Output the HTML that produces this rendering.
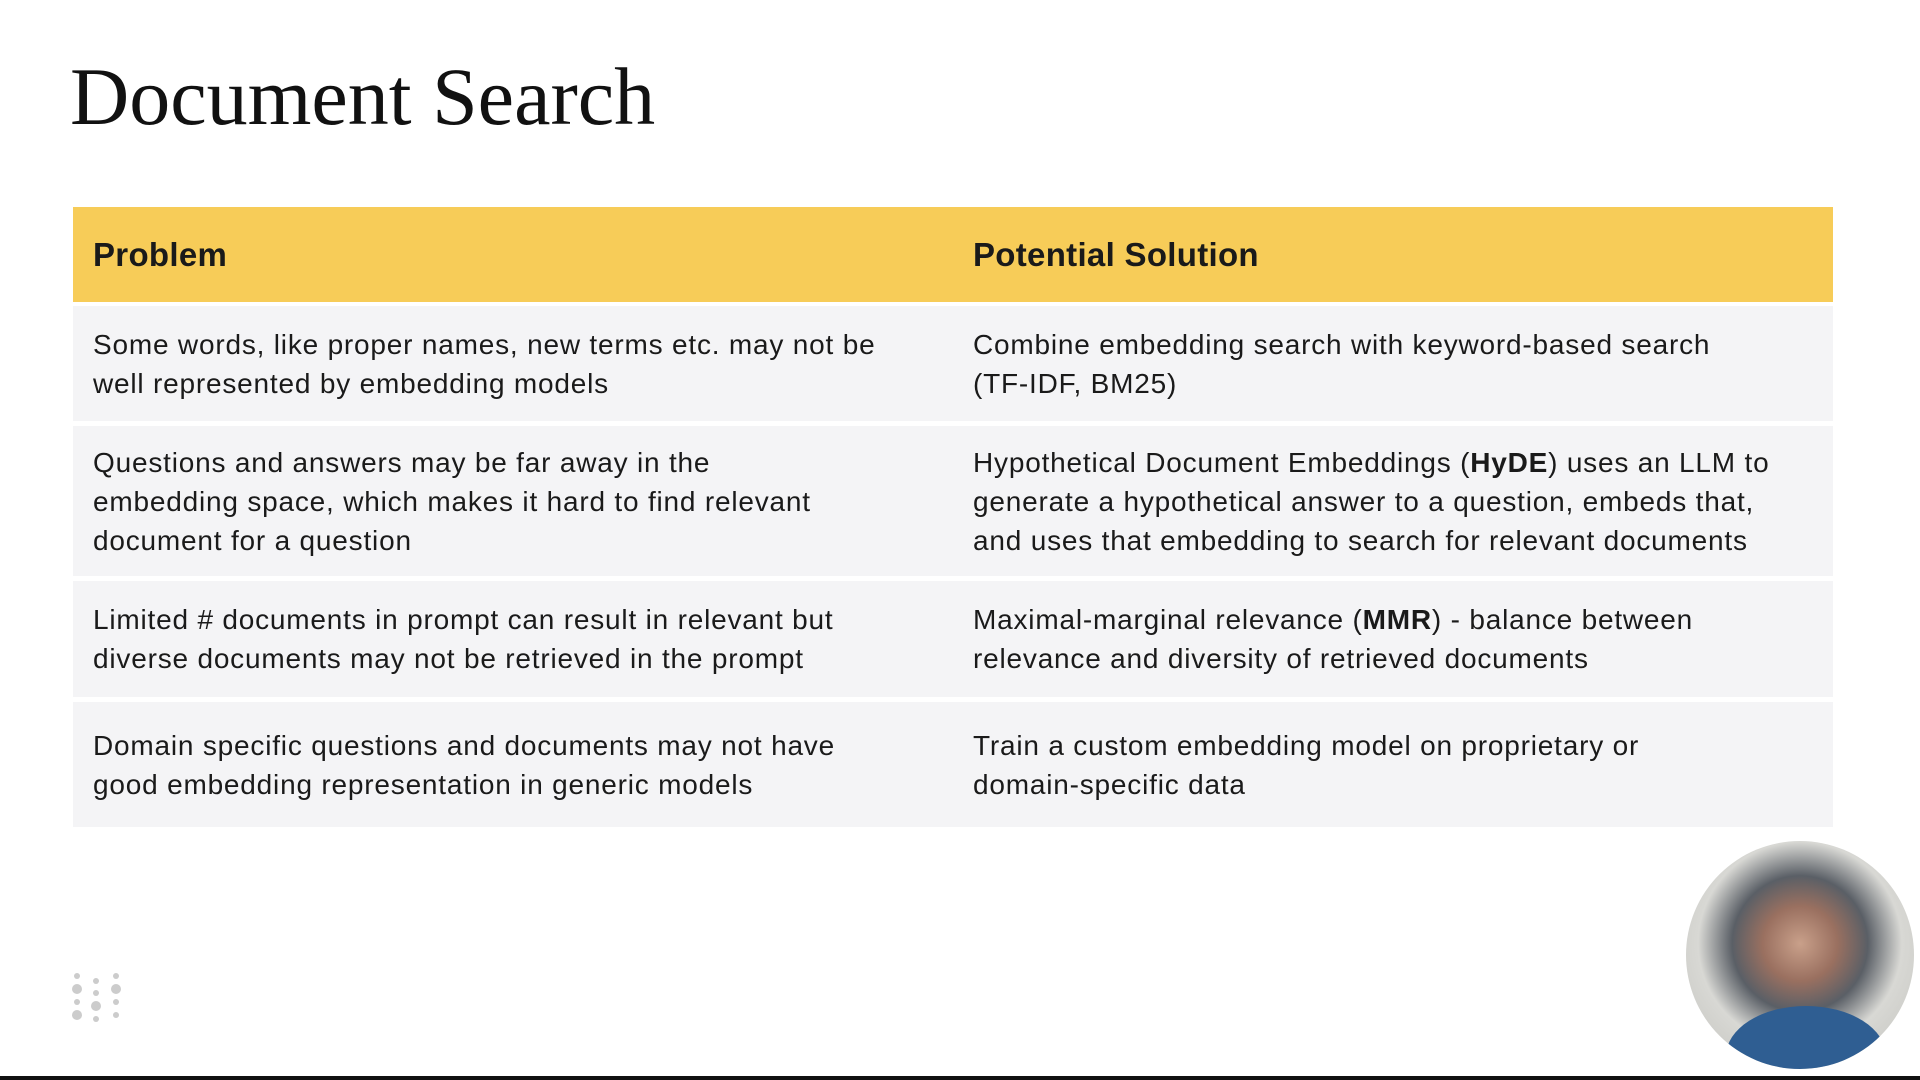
<!DOCTYPE html>
<html><head><meta charset="utf-8"><style>
body{margin:0;width:1920px;height:1080px;background:#fff;position:relative;overflow:hidden;font-family:"Liberation Sans",sans-serif;color:#1a1a1a}
h1{position:absolute;left:70px;top:50px;margin:0;font-family:"Liberation Serif",serif;font-weight:normal;font-size:82px;color:#111}
.tbl{position:absolute;left:73px;top:207px;width:1760px}
.row{display:flex;align-items:center;background:#f4f4f6;margin-bottom:5px;font-size:28px;letter-spacing:0.8px;line-height:39px;white-space:nowrap}
.row div{box-sizing:border-box}
.c1{width:900px;padding-left:20px;padding-right:20px}
.c2{width:860px;padding-left:0}
.hd{background:#f7cc58;font-weight:bold;font-size:33px;letter-spacing:0.3px;height:95px;margin-bottom:4px}
.dots{position:absolute;left:70px;top:970px}
.cam{position:absolute;left:1686px;top:841px;width:228px;height:228px;border-radius:50%;background:radial-gradient(circle at 50% 45%,#c9a08a 0,#9a7060 22%,#5a5f66 40%,#d8d8d4 60%,#bfbfba 100%);overflow:hidden}
.shirt{position:absolute;left:40px;top:165px;width:160px;height:100px;border-radius:50%;background:#2f5e92}
.bar{position:absolute;left:0;top:1076px;width:1920px;height:4px;background:#111}
</style></head><body>
<h1>Document Search</h1>
<div class="tbl">
<div class="row hd"><div class="c1">Problem</div><div class="c2">Potential Solution</div></div>
<div class="row" style="height:115px"><div class="c1">Some words, like proper names, new terms etc. may not be<br>well represented by embedding models</div><div class="c2">Combine embedding search with keyword-based search<br>(TF-IDF, BM25)</div></div>
<div class="row" style="height:150px"><div class="c1">Questions and answers may be far away in the<br>embedding space, which makes it hard to find relevant<br>document for a question</div><div class="c2">Hypothetical Document Embeddings (<b>HyDE</b>) uses an LLM to<br>generate a hypothetical answer to a question, embeds that,<br>and uses that embedding to search for relevant documents</div></div>
<div class="row" style="height:116px"><div class="c1">Limited # documents in prompt can result in relevant but<br>diverse documents may not be retrieved in the prompt</div><div class="c2">Maximal-marginal relevance (<b>MMR</b>) - balance between<br>relevance and diversity of retrieved documents</div></div>
<div class="row" style="height:125px"><div class="c1">Domain specific questions and documents may not have<br>good embedding representation in generic models</div><div class="c2">Train a custom embedding model on proprietary or<br>domain-specific data</div></div>
</div>
<svg class="dots" width="60" height="60" fill="#ccc">
<circle cx="7" cy="6" r="3"/><circle cx="7" cy="19" r="5"/><circle cx="7" cy="32" r="3"/><circle cx="7" cy="45" r="5"/>
<circle cx="26" cy="11" r="3"/><circle cx="26" cy="23" r="3"/><circle cx="26" cy="36" r="5"/><circle cx="26" cy="49" r="3"/>
<circle cx="46" cy="6" r="3"/><circle cx="46" cy="19" r="5"/><circle cx="46" cy="32" r="3"/><circle cx="46" cy="45" r="3"/>
</svg>
<div class="cam"><div class="shirt"></div></div>
<div class="bar"></div>
</body></html>
